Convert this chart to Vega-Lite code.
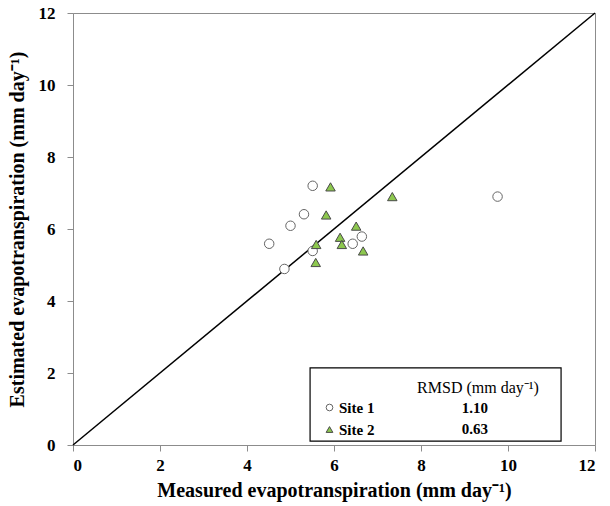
{
  "$schema": "https://vega.github.io/schema/vega-lite/v6.json",
  "width": 522,
  "height": 432,
  "autosize": {"type": "none"},
  "padding": {"left": 73, "top": 13, "right": 15, "bottom": 61},
  "background": "white",
  "config": {
    "view": {"stroke": "#8c8c8c", "strokeWidth": 1},
    "font": "Liberation Serif",
    "axis": {
      "grid": false,
      "domainColor": "#8c8c8c",
      "tickColor": "#8c8c8c",
      "tickSize": 6,
      "labelFont": "Liberation Serif",
      "labelFontWeight": "bold",
      "labelFontSize": 17,
      "labelColor": "black",
      "titleFont": "Liberation Serif",
      "titleFontWeight": "bold",
      "titleFontSize": 20,
      "titleColor": "black"
    },
    "legend": {
      "labelFont": "Liberation Serif",
      "labelFontWeight": "bold",
      "labelFontSize": 15,
      "labelColor": "black"
    }
  },
  "layer": [
    {
      "data": {"values": [{"v": 0}, {"v": 12}]},
      "mark": {"type": "line", "color": "black", "strokeWidth": 1.5},
      "encoding": {
        "x": {"field": "v", "type": "quantitative", "scale": {"domain": [0, 12], "nice": false},
              "axis": {"values": [0, 2, 4, 6, 8, 10, 12], "title": "Measured evapotranspiration (mm day⁻¹)", "labelPadding": 6, "titlePadding": 7}},
        "y": {"field": "v", "type": "quantitative", "scale": {"domain": [0, 12], "nice": false},
              "axis": {"values": [0, 2, 4, 6, 8, 10, 12], "title": "Estimated evapotranspiration (mm day⁻¹)", "labelPadding": 12, "titlePadding": 11}}
      }
    },
    {
      "data": {"values": [{"x": 5.45, "y": 0.11, "x2": 11.22, "y2": 2.14}]},
      "mark": {"type": "rect", "fill": "white", "stroke": "black", "strokeWidth": 1.2},
      "encoding": {
        "x": {"field": "x", "type": "quantitative"},
        "x2": {"field": "x2"},
        "y": {"field": "y", "type": "quantitative"},
        "y2": {"field": "y2"}
      }
    },
    {
      "data": {"values": [
        {"site": "Site 1", "measured": 5.51, "estimated": 7.2},
        {"site": "Site 1", "measured": 5.31, "estimated": 6.41},
        {"site": "Site 1", "measured": 5.0, "estimated": 6.09},
        {"site": "Site 1", "measured": 4.51, "estimated": 5.59},
        {"site": "Site 1", "measured": 5.51, "estimated": 5.39},
        {"site": "Site 1", "measured": 4.86, "estimated": 4.89},
        {"site": "Site 1", "measured": 6.43, "estimated": 5.59},
        {"site": "Site 1", "measured": 6.64, "estimated": 5.79},
        {"site": "Site 1", "measured": 9.76, "estimated": 6.9},
        {"site": "Site 2", "measured": 5.92, "estimated": 7.17},
        {"site": "Site 2", "measured": 7.34, "estimated": 6.9},
        {"site": "Site 2", "measured": 5.82, "estimated": 6.39},
        {"site": "Site 2", "measured": 6.51, "estimated": 6.08},
        {"site": "Site 2", "measured": 6.14, "estimated": 5.77},
        {"site": "Site 2", "measured": 6.18, "estimated": 5.57},
        {"site": "Site 2", "measured": 5.59, "estimated": 5.57},
        {"site": "Site 2", "measured": 6.67, "estimated": 5.39},
        {"site": "Site 2", "measured": 5.58, "estimated": 5.07}
      ]},
      "mark": {"type": "point", "filled": true, "strokeWidth": 1, "opacity": 1, "size": 90},
      "encoding": {
        "x": {"field": "measured", "type": "quantitative"},
        "y": {"field": "estimated", "type": "quantitative"},
        "shape": {"field": "site", "type": "nominal",
                  "scale": {"domain": ["Site 1", "Site 2"], "range": ["circle", "triangle-up"]},
                  "legend": {"title": null, "orient": "none", "legendX": 249, "legendY": 387, "rowPadding": 6, "symbolSize": 45, "symbolStrokeWidth": 1, "labelOffset": 2}},
        "fill": {"field": "site", "type": "nominal",
                 "scale": {"domain": ["Site 1", "Site 2"], "range": ["white", "#8dc84e"]}},
        "stroke": {"field": "site", "type": "nominal",
                   "scale": {"domain": ["Site 1", "Site 2"], "range": ["#666666", "#4a4a4a"]}}
      }
    },
    {
      "data": {"values": [
        {"label": "RMSD (mm day⁻¹)", "x": 9.31, "y": 1.58}
      ]},
      "mark": {"type": "text", "fontSize": 16, "font": "Liberation Serif", "fontWeight": "normal", "color": "black", "align": "center", "baseline": "middle"},
      "encoding": {
        "x": {"field": "x", "type": "quantitative"},
        "y": {"field": "y", "type": "quantitative"},
        "text": {"field": "label"}
      }
    },
    {
      "data": {"values": [
        {"label": "1.10", "x": 9.24, "y": 1.03},
        {"label": "0.63", "x": 9.24, "y": 0.44}
      ]},
      "mark": {"type": "text", "fontSize": 15, "font": "Liberation Serif", "fontWeight": "bold", "color": "black", "align": "center", "baseline": "middle"},
      "encoding": {
        "x": {"field": "x", "type": "quantitative"},
        "y": {"field": "y", "type": "quantitative"},
        "text": {"field": "label"}
      }
    }
  ]
}
